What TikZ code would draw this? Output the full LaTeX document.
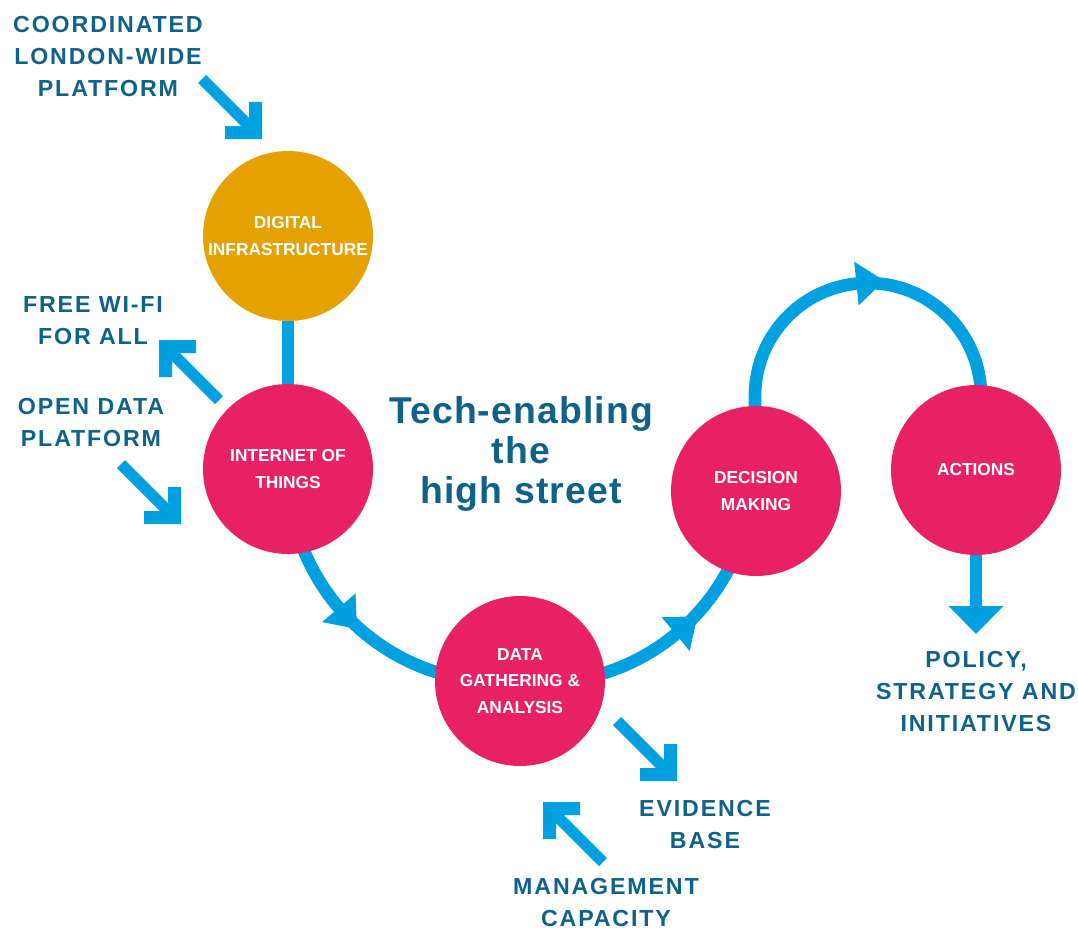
\documentclass[tikz,border=0pt]{standalone}
\usepackage{fontspec}
\setmainfont{Liberation Sans}
\newfontfamily\lblfont[LetterSpace=8]{Liberation Sans}
\newfontfamily\ttlfont[LetterSpace=3]{Liberation Sans}
\usetikzlibrary{decorations.markings,arrows.meta,calc}
\definecolor{myblue}{HTML}{00A0E1}
\definecolor{mypink}{HTML}{E72163}
\definecolor{myorange}{HTML}{E4A100}
\definecolor{myteal}{HTML}{0E6189}
\tikzset{
  conn/.style={draw=myblue,line width=9.5pt},
  stage/.style={circle,fill=mypink,minimum size=127.5pt,inner sep=0pt,text=white,
    font=\bfseries\fontsize{13}{20}\selectfont,align=center},
  lbl/.style={text=myteal,font=\lblfont\bfseries\fontsize{17.4}{24}\selectfont,align=center,inner sep=0pt},
  ttl/.style={text=myteal,font=\ttlfont\bfseries\fontsize{28}{30}\selectfont,align=center,inner sep=0pt},
  midhead/.style={postaction={decorate},decoration={markings,
    mark=at position #1 with {\fill[myblue] (0,-22) -- (28,0) -- (0,22) -- cycle;}}},
  cornerarrow/.pic={\fill[myblue] (0,0) -- (0,-37) -- (-13,-37) -- (-13,-21) -- (-56,-64)
    -- (-64,-56) -- (-21,-13) -- (-37,-13) -- (-37,0) -- cycle;}
}
\begin{document}
\begin{tikzpicture}[x=0.75pt,y=-0.75pt]
\useasboundingbox (0,0) rectangle (1078,931);
\coordinate (c1) at (500,470);
\coordinate (c2) at (540,470);
\coordinate (c3) at (868,396);
\coordinate (pend) at (976,634);
% curved connectors (behind the circles)
\draw[conn,midhead=0.373] ($(c1)+(160:212)$) arc[start angle=160,end angle=105,radius=212];
\draw[conn,midhead=0.447] ($(c2)+(75:213)$) arc[start angle=75,end angle=20,radius=213];
\draw[conn,midhead=0.544] (755,491) -- ($(c3)+(180:113)$) arc[start angle=180,end angle=375,radius=113];
% stage circles
\node[stage,fill=myorange] (dig) at (288,236) {DIGITAL\\INFRASTRUCTURE};
\node[stage] (iot) at (288,469) {INTERNET OF\\THINGS};
\node[stage] (data) at (520,681) {DATA\\GATHERING \&\\ANALYSIS};
\node[stage] (dec) at (756,491) {DECISION\\MAKING};
\node[stage] (act) at (976,470) {ACTIONS};
% straight connectors
\draw[conn] (dig) -- (iot);
\draw[conn,-{Triangle[width=40pt,length=21pt]}] (act) -- (pend);
% corner arrows
\pic at (262,139) {cornerarrow};
\pic[rotate=180] at (159,340) {cornerarrow};
\pic at (181,524) {cornerarrow};
\pic at (677,781) {cornerarrow};
\pic[rotate=180] at (543,802) {cornerarrow};
% labels
\node[lbl] (coord) at (108,57) {COORDINATED\\LONDON-WIDE\\PLATFORM};
\node[lbl] (wifi) at (93,321) {FREE WI-FI\\FOR ALL};
\node[lbl] (open) at (91,423) {OPEN DATA\\PLATFORM};
\node[ttl] (title) at (521,454) {Tech-enabling\\the\\high street};
\node[lbl] (evid) at (705,825) {EVIDENCE\\BASE};
\node[lbl] (mgmt) at (606,903) {MANAGEMENT\\CAPACITY};
\node[lbl] (policy) at (976,692) {POLICY,\\STRATEGY AND\\INITIATIVES};
\end{tikzpicture}
\end{document}
